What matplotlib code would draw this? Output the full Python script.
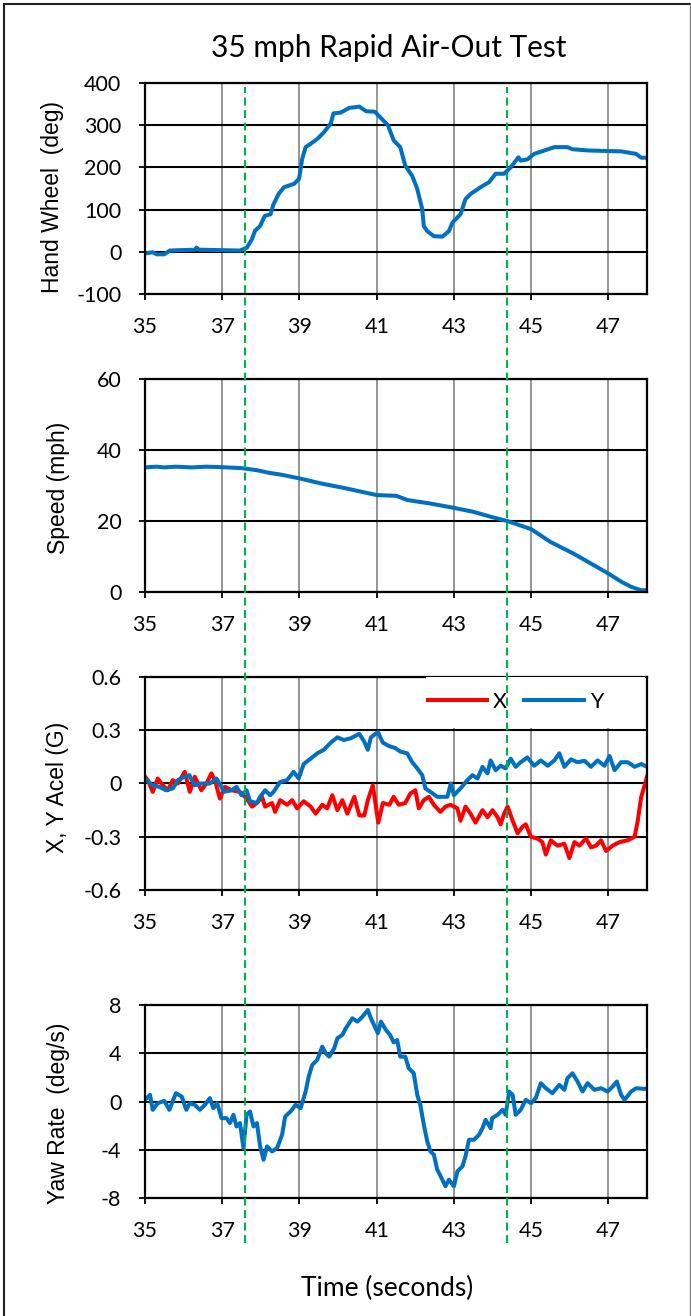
import matplotlib
matplotlib.use("Agg")
import matplotlib.pyplot as plt
from matplotlib.lines import Line2D
from matplotlib.patches import Rectangle

plt.rcParams['axes.unicode_minus'] = False

# ---------------- data ----------------
hw_t = [35.0, 35.2, 35.3, 35.5, 35.64, 36.3, 36.33, 36.4, 37.46, 37.64, 37.77, 37.85, 37.98,
        38.1, 38.25, 38.33, 38.46, 38.6, 38.86, 38.99, 39.07, 39.16, 39.29, 39.47, 39.64,
        39.81, 39.88, 40.07, 40.29, 40.55, 40.73, 40.95, 41.12, 41.29, 41.44, 41.61, 41.74,
        41.92, 42.05, 42.18, 42.22, 42.31, 42.48, 42.7, 42.87, 42.96, 43.17, 43.3, 43.43,
        43.69, 43.91, 44.08, 44.3, 44.47, 44.67, 44.73, 44.9, 45.08, 45.34, 45.6, 45.94,
        46.07, 46.5, 47.33, 47.72, 47.85, 48.0]
hw_v = [-4, -1, -6, -6, 3, 5, 10, 5, 3, 10, 30, 50, 61,
        85, 89, 113, 137, 153, 161, 173, 220, 248, 256, 268, 284,
        304, 328, 330, 341, 344, 333, 332, 316, 300, 264, 248, 204,
        180, 149, 101, 61, 49, 37, 36, 49, 69, 89, 125, 137,
        153, 165, 185, 185, 200, 224, 216, 219, 232, 240, 248, 248,
        243, 240, 238, 232, 223, 223]

sp_t = [35.0, 35.3, 35.5, 35.8, 36.2, 36.6, 36.9, 37.5, 37.9, 38.2, 38.55, 39.0, 39.55,
        40.2, 41.0, 41.5, 41.8, 42.4, 43.0, 43.5, 43.95, 44.38, 45.0, 45.5, 46.1, 46.55,
        47.0, 47.35, 47.6, 47.85, 48.0]
sp_v = [35.1, 35.3, 35.1, 35.3, 35.1, 35.3, 35.2, 34.9, 34.3, 33.6, 33.0, 32.0, 30.6,
        29.2, 27.3, 27.1, 25.9, 24.9, 23.7, 22.6, 21.2, 20.0, 17.7, 14.1, 10.8, 8.0,
        5.2, 2.8, 1.4, 0.5, 0.5]

ax_t = [35.0, 35.07, 35.2, 35.33, 35.46, 35.59, 35.72, 35.85, 36.03, 36.16, 36.29, 36.46,
        36.59, 36.72, 36.81, 36.94, 37.07, 37.24, 37.46, 37.63, 37.77, 37.9, 38.03, 38.11,
        38.29, 38.37, 38.5, 38.68, 38.81, 38.94, 39.11, 39.29, 39.42, 39.59, 39.72, 39.85,
        39.98, 40.11, 40.24, 40.42, 40.55, 40.68, 40.77, 40.9, 41.04, 41.16, 41.33, 41.44,
        41.57, 41.74, 41.87, 42.0, 42.09, 42.22, 42.35, 42.48, 42.65, 42.78, 42.91, 43.09,
        43.17, 43.3, 43.43, 43.56, 43.74, 43.87, 44.0, 44.13, 44.21, 44.3, 44.39, 44.52,
        44.65, 44.77, 44.86, 44.99, 45.16, 45.29, 45.38, 45.51, 45.68, 45.86, 45.99, 46.12,
        46.25, 46.42, 46.55, 46.68, 46.81, 46.94, 47.11, 47.29, 47.5, 47.68, 47.76, 47.85,
        47.94, 48.0]
ax_v = [0.038, 0.02, -0.047, 0.028, -0.01, -0.038, 0.019, 0.0, 0.066, -0.047, 0.038, -0.038,
        0.0, 0.057, 0.019, -0.085, -0.019, -0.038, -0.047, -0.085, -0.13, -0.11, -0.075, -0.13,
        -0.11, -0.16, -0.094, -0.12, -0.094, -0.14, -0.10, -0.13, -0.17, -0.12, -0.14, -0.066,
        -0.15, -0.094, -0.17, -0.075, -0.18, -0.18, -0.094, -0.01, -0.22, -0.11, -0.12, -0.075,
        -0.12, -0.11, -0.057, -0.038, -0.14, -0.094, -0.075, -0.12, -0.16, -0.13, -0.12, -0.14,
        -0.21, -0.13, -0.17, -0.22, -0.15, -0.19, -0.15, -0.19, -0.23, -0.17, -0.13, -0.21,
        -0.28, -0.245, -0.23, -0.30, -0.31, -0.33, -0.40, -0.32, -0.35, -0.34, -0.42, -0.33,
        -0.35, -0.31, -0.36, -0.35, -0.32, -0.38, -0.35, -0.33, -0.32, -0.30, -0.21, -0.075,
        -0.01, 0.038]

ay_t = [35.0, 35.2, 35.37, 35.54, 35.72, 35.85, 36.02, 36.15, 36.28, 36.46, 36.68, 36.85,
        36.98, 37.03, 37.24, 37.37, 37.5, 37.63, 37.72, 37.9, 37.98, 38.11, 38.24, 38.33,
        38.5, 38.68, 38.85, 38.98, 39.11, 39.29, 39.46, 39.63, 39.81, 39.98, 40.15, 40.33,
        40.55, 40.68, 40.77, 40.85, 41.03, 41.16, 41.33, 41.48, 41.61, 41.79, 41.92, 42.05,
        42.18, 42.26, 42.39, 42.57, 42.83, 42.92, 43.0, 43.17, 43.35, 43.48, 43.61, 43.74,
        43.87, 43.95, 44.08, 44.21, 44.34, 44.47, 44.6, 44.73, 44.9, 45.08, 45.25, 45.43,
        45.6, 45.73, 45.86, 46.03, 46.2, 46.38, 46.55, 46.72, 46.9, 47.03, 47.16, 47.33,
        47.5, 47.68, 47.85, 48.0]
ay_v = [0.028, -0.01, -0.019, -0.038, -0.028, 0.019, 0.038, 0.047, -0.01, 0.0, 0.0, 0.028,
        -0.019, -0.047, -0.038, -0.019, -0.066, -0.038, -0.10, -0.11, -0.075, -0.038, -0.066, -0.047,
        0.009, 0.019, 0.066, 0.028, 0.11, 0.14, 0.17, 0.19, 0.23, 0.26, 0.245, 0.255,
        0.28, 0.235, 0.19, 0.26, 0.29, 0.23, 0.21, 0.20, 0.18, 0.17, 0.12, 0.085,
        0.047, -0.028, -0.047, -0.075, -0.075, 0.0, -0.066, -0.028, 0.019, 0.047, 0.028, 0.094,
        0.057, 0.13, 0.075, 0.10, 0.085, 0.14, 0.094, 0.12, 0.147, 0.10, 0.13, 0.10,
        0.13, 0.17, 0.094, 0.136, 0.12, 0.128, 0.094, 0.13, 0.10, 0.155, 0.075, 0.12,
        0.12, 0.094, 0.11, 0.094]

yaw_t = [35.0, 35.13, 35.2, 35.33, 35.5, 35.63, 35.8, 35.95, 36.07, 36.16, 36.29, 36.42,
         36.55, 36.68, 36.77, 36.87, 36.98, 37.11, 37.2, 37.29, 37.37, 37.46, 37.55, 37.63,
         37.72, 37.81, 37.9, 37.98, 38.07, 38.16, 38.29, 38.42, 38.55, 38.63, 38.77, 38.9,
         39.03, 39.16, 39.24, 39.33, 39.46, 39.59, 39.68, 39.77, 39.9, 39.98, 40.11, 40.2,
         40.37, 40.5, 40.63, 40.77, 40.85, 41.03, 41.11, 41.24, 41.35, 41.44, 41.53, 41.61,
         41.74, 41.83, 41.96, 42.05, 42.13, 42.22, 42.31, 42.39, 42.48, 42.57, 42.7, 42.78,
         42.87, 43.0, 43.09, 43.22, 43.3, 43.39, 43.52, 43.65, 43.74, 43.82, 43.95, 43.99,
         44.13, 44.26, 44.34, 44.43, 44.52, 44.6, 44.73, 44.86, 45.0, 45.12, 45.25, 45.38,
         45.55, 45.73, 45.86, 45.94, 46.07, 46.2, 46.33, 46.46, 46.64, 46.81, 46.98, 47.11,
         47.22, 47.33, 47.42, 47.59, 47.72, 47.9, 48.0]
yaw_v = [0.14, 0.55, -0.69, -0.14, 0.05, -0.69, 0.69, 0.41, -0.69, -0.14, -0.28, -0.69,
         -0.28, 0.28, -0.55, -0.14, -1.38, -1.38, -1.79, -1.1, -2.07, -1.79, -3.86, -1.1,
         -0.83, -2.07, -1.79, -3.72, -4.83, -3.72, -4.14, -3.86, -2.76, -1.24, -0.83, -0.28,
         -0.55, 0.83, 2.07, 3.03, 3.45, 4.55, 4.0, 3.72, 4.41, 5.24, 5.52, 6.07,
         6.9, 6.62, 7.03, 7.59, 6.9, 5.66, 6.62, 5.93, 5.5, 4.9, 5.1, 3.72,
         3.72, 2.76, 2.34, 0.55, -0.28, -1.93, -3.31, -4.14, -4.41, -5.66, -6.48, -7.03,
         -6.48, -7.03, -5.79, -5.38, -4.55, -3.17, -3.17, -2.76, -2.21, -1.52, -2.21, -1.38,
         -1.1, -0.69, -1.1, 0.83, 0.55, -1.1, -0.69, 0.14, -0.14, 0.28, 1.52, 1.1,
         0.69, 1.38, 0.97, 1.93, 2.34, 1.66, 0.83, 1.52, 0.97, 1.1, 0.83, 1.24,
         1.66, 0.55, 0.14, 0.83, 1.1, 1.05, 1.05]

event_times = [37.6, 44.37]

x_ticks = [35, 37, 39, 41, 43, 45, 47]
hw_ticks = [-100, 0, 100, 200, 300, 400]
sp_ticks = [0, 20, 40, 60]
acc_ticks = [-0.6, -0.3, 0, 0.3, 0.6]
acc_ticklabels = ["-0.6", "-0.3", "0", "0.3", "0.6"]
yaw_ticks = [-8, -4, 0, 4, 8]

title = "35 mph Rapid Air-Out Test"
ylabels = ["Hand Wheel  (deg)", "Speed (mph)", "X, Y Acel (G)", "Yaw Rate  (deg/s)"]
xlabel = "Time (seconds)"

# ---------------- styles ----------------
BLUE = "#0070C0"
RED = "#FF0000"
GREEN = "#00B050"
TICK_FONT = "Lato"
LABEL_FONT = "Liberation Sans"

W, H = 691, 1316
fig = plt.figure(figsize=(W / 100, H / 100), dpi=100)


def rect(top_px, bot_px):
    return [145 / W, 1 - bot_px / H, 502 / W, (bot_px - top_px) / H]


def style(ax, yticks, ylim, ylab, ylab_xy, yticklabels=None):
    ax.set_xlim(35, 48)
    ax.set_ylim(*ylim)
    ax.set_xticks(x_ticks)
    ax.set_yticks(yticks)
    if yticklabels is not None:
        ax.set_yticklabels(yticklabels)
    ax.grid(axis='x', color='#8c8c8c', lw=1.3)
    ax.grid(axis='y', color='black', lw=1.5)
    for s in ax.spines.values():
        s.set_linewidth(1.6)
        s.set_color('black')
    ax.tick_params(axis='both', direction='out', length=4.5, width=1.3,
                   color='black', labelsize=15.5)
    ax.tick_params(axis='x', pad=12)
    ax.tick_params(axis='y', pad=12.5)
    for lab in ax.get_xticklabels() + ax.get_yticklabels():
        lab.set_fontfamily(TICK_FONT)
    ax.set_ylabel(ylab, fontfamily=LABEL_FONT, fontsize=16.5, va='center')
    ax.yaxis.set_label_coords(*ylab_xy)


LW = 2.9

ax1 = fig.add_axes(rect(83, 294))
ax1.plot(hw_t, hw_v, color=BLUE, lw=LW, solid_joinstyle='round')
style(ax1, hw_ticks, (-100, 400), ylabels[0], (-0.185, 0.46))

ax2 = fig.add_axes(rect(379, 592))
ax2.plot(sp_t, sp_v, color=BLUE, lw=LW, solid_joinstyle='round')
style(ax2, sp_ticks, (0, 60), ylabels[1], (-0.173, 0.49))

ax3 = fig.add_axes(rect(677, 890))
lx, = ax3.plot(ax_t, ax_v, color=RED, lw=LW, solid_joinstyle='round', label="X")
ly, = ax3.plot(ay_t, ay_v, color=BLUE, lw=LW, solid_joinstyle='round', label="Y")
style(ax3, acc_ticks, (-0.6, 0.6), ylabels[2], (-0.175, 0.48), acc_ticklabels)
ax3.add_patch(Rectangle((0.56, 0.762), 0.436, 0.238, transform=ax3.transAxes,
                        facecolor='white', edgecolor='none', zorder=3, clip_on=False))
leg = ax3.legend(handles=[lx, ly], loc='center', bbox_to_anchor=(0.738, 0.883), ncol=2,
                 frameon=False, handlelength=2.75, handletextpad=0.3, columnspacing=0.8,
                 prop={'family': TICK_FONT, 'size': 15.5})
leg.set_zorder(4)

ax4 = fig.add_axes(rect(1005, 1198))
ax4.plot(yaw_t, yaw_v, color=BLUE, lw=LW, solid_joinstyle='round')
style(ax4, yaw_ticks, (-8, 8), ylabels[3], (-0.173, 0.44))

# overlay for event lines spanning all panels
ov = fig.add_axes([145 / W, 1 - 1243 / H, 502 / W, (1243 - 87) / H], zorder=10)
ov.set_xlim(35, 48)
ov.set_ylim(0, 1)
ov.axis('off')
ov.patch.set_alpha(0)
for et in event_times:
    ov.axvline(et, color=GREEN, lw=1.5, dashes=(3.8, 2.2))

fig.text(389 / W, 1 - 57 / H, title, ha='center', va='baseline',
         fontfamily=TICK_FONT, fontsize=21.5)
fig.text(387 / W, 1 - 1296 / H, xlabel, ha='center', va='baseline',
         fontfamily=TICK_FONT, fontsize=19)

# outer chart border
fig.add_artist(Line2D([4 / W, 690 / W], [1 - 4 / H, 1 - 4 / H], transform=fig.transFigure,
                      color='#202020', lw=1.5))
fig.add_artist(Line2D([4 / W, 4 / W], [1 - 4 / H, 0], transform=fig.transFigure,
                      color='#202020', lw=1.5))
fig.add_artist(Line2D([690 / W, 690 / W], [1 - 4 / H, 0], transform=fig.transFigure,
                      color='#808080', lw=1.0))

fig.savefig("out.png", dpi=100, facecolor='white')
